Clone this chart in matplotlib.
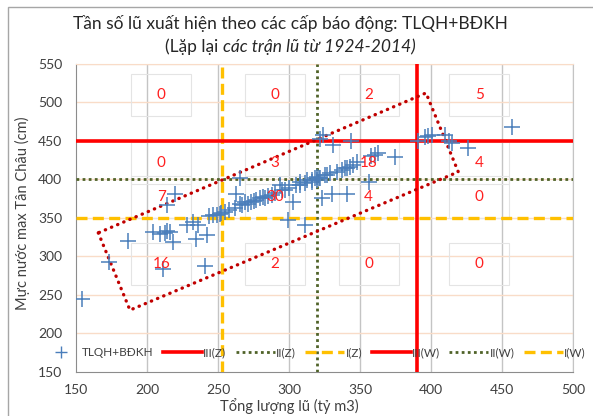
import matplotlib
matplotlib.use("Agg")
import matplotlib.pyplot as plt
from matplotlib.lines import Line2D
from matplotlib.patches import Rectangle, Polygon

plt.rcParams['font.family'] = ['Lato', 'Open Sans', 'DejaVu Sans']

# ---------------- data ----------------
volume = [154, 173.5, 186.8, 204.4, 209, 212.7, 216, 218.5, 211, 228, 232.6, 234.5, 242, 240.8, 236, 214,
          213.8, 219.7, 246.7, 251.4, 249, 244, 252,
          263, 262, 265.5, 269, 271.3, 279.6, 282, 277, 293.7, 297, 303, 305, 311, 316, 319.5, 307.7,
          312.5, 316, 255, 258, 267, 273, 275, 285, 288, 290, 295, 300, 283, 308,
          299.5, 311,
          265.5, 318, 319.5,
          323, 330, 340.6, 356,
          322, 325, 329, 337, 339.4, 347.6, 360.6, 363, 374.6, 331, 344, 334, 341, 343, 345, 321, 327, 358,
          324, 322,
          395.8, 400.5, 410, 456.8, 398,
          391, 413, 414.6, 426]
water_level = [244, 293, 320, 332, 329, 330, 331, 319, 283, 340, 344, 322, 327, 287, 341, 333,
               367, 381, 353, 355, 354, 352, 356,
               381, 362, 368, 370, 368, 375, 377, 373, 392, 385.6, 370, 392, 395, 396.4, 398.6, 396,
               398.6, 398.6, 358, 360, 366, 371, 372, 378, 380, 382, 386, 388, 376, 393,
               347, 340,
               401, 401, 403,
               375, 381, 381, 396,
               401, 405, 408, 412, 414, 422.5, 431, 433.5, 429, 444, 449, 410, 415, 416, 418, 402, 406, 430,
               457, 452,
               455, 457, 457, 468, 456,
               449, 449, 446.6, 440]

# alarm levels
zone_names = ["III(Z)", "II(Z)", "I(Z)"]
zone_x = [390, 320, 253]          # volume thresholds
level_names = ["III(W)", "II(W)", "I(W)"]
level_y = [450, 400, 350]         # water-level thresholds

# counts per cell (columns: x bins, rows: y bins, top to bottom)
count_x = [210, 290, 356, 434]
count_y = [509, 421, 377, 290]
counts = [[0, 0, 2, 5],
          [0, 3, 18, 4],
          [7, 30, 4, 0],
          [16, 2, 0, 0]]

# highlighted zone (dotted polygon)
poly_x = [165.7, 188, 419.2, 396.5]
poly_y = [330.3, 230, 409.5, 512]

x_ticks = [150, 200, 250, 300, 350, 400, 450, 500]
y_ticks = [150, 200, 250, 300, 350, 400, 450, 500, 550]

# ---------------- figure ----------------
W, H = 593, 416
fig = plt.figure(figsize=(W / 100, H / 100), dpi=100)
ax = fig.add_axes([76 / W, 1 - 371.7 / H, (573 - 76) / W, (371.7 - 63.7) / H])
ax.set_xlim(150, 500)
ax.set_ylim(150, 550)

# outer chart border
fig.add_artist(Rectangle((8 / W, -0.1), 1.2, 1 - 7 / H + 0.1, transform=fig.transFigure,
                         fill=False, ec='#A6A6A6', lw=1.0))

# grid
for xv in x_ticks[1:]:
    ax.axvline(xv, color='#C4C4C4', lw=1.0, zorder=0)
for yv in y_ticks[1:]:
    ax.axhline(yv, color='#F9DCC8', lw=1.0, zorder=0)

ax.set_xticks(x_ticks)
ax.set_yticks(y_ticks)
ax.tick_params(length=0, labelsize=10, colors='#404040')
ax.tick_params(axis='x', pad=9)
ax.tick_params(axis='y', pad=10)
for s in ['left', 'bottom']:
    ax.spines[s].set_color('#8C8C8C')
ax.spines['top'].set_color('#F9DCC8')
ax.spines['right'].set_color('#C4C4C4')

# count label boxes and numbers
bw, bh = 60 / 1.42, 42 / 0.77
for i, yy in enumerate(count_y):
    for j, xx in enumerate(count_x):
        ax.add_patch(Rectangle((xx - bw / 2, yy - bh / 2), bw, bh, fill=False,
                               ec='#E4E4E4', lw=0.8, zorder=1))
        ax.text(xx, yy, str(counts[i][j]), color='#FF2020', fontsize=11,
                ha='center', va='center', zorder=5)

# threshold lines
styles = [dict(color='#FF0000', lw=2.6, ls='-'),
          dict(color='#4F6228', lw=2.0, ls=(0, (1, 1.2))),
          dict(color='#FFC000', lw=2.4, ls=(0, (3.3, 1.6)))]
handles = [Line2D([], [], ls='none', marker='+', ms=9, mew=1.0, color='#4A7EBB')]
labels = ["TLQH+BĐKH"]
for k in range(3):
    ax.axvline(zone_x[k], zorder=3, **styles[k])
    handles.append(Line2D([], [], **styles[k]))
    labels.append(zone_names[k])
for k in range(3):
    ax.axhline(level_y[k], zorder=3, **styles[k])
    handles.append(Line2D([], [], **styles[k]))
    labels.append(level_names[k])

# dotted polygon
ax.add_patch(Polygon(list(zip(poly_x, poly_y)), closed=True, fill=False, ec='#C00000',
                     lw=2.4, ls=(0, (0.1, 1.9)), capstyle='round', joinstyle='round', zorder=4))

# scatter
ax.plot(volume, water_level, ls='none', marker='+', ms=11, mew=1.1, color='#4A7EBB', zorder=4)

# legend
leg = fig.legend(handles, labels, loc='center left', bbox_to_anchor=(42 / W, 1 - 353 / H),
                 ncol=7, frameon=False, fontsize=8.5, handlelength=3.3, handletextpad=0.1,
                 columnspacing=0.8, borderaxespad=0, borderpad=0, labelcolor='#404040')

# titles
fig.text(290 / W, 1 - 23 / H, "Tần số lũ xuất hiện theo các cấp báo động: TLQH+BĐKH",
         ha='center', va='center', fontsize=12.5, color='#262626')
fig.canvas.draw()
r = fig.canvas.get_renderer()
t1 = fig.text(0, 1 - 47 / H, "(Lặp lại ", ha='left', va='center', fontsize=12.5, color='#262626')
t2 = fig.text(0, 1 - 47 / H, "các trận lũ từ 1924-2014)", ha='left', va='center', fontsize=12.5,
              style='italic', color='#262626')
w1 = t1.get_window_extent(r).width
w2 = t2.get_window_extent(r).width
x0 = 290 - (w1 + w2) / 2
t1.set_x(x0 / W)
t2.set_x((x0 + w1) / W)

fig.text(289 / W, 1 - 406 / H, "Tổng lượng lũ (tỷ m3)", ha='center', va='center',
         fontsize=10.5, color='#404040')
fig.text(22 / W, 1 - 213 / H, "Mực nước max Tân Châu (cm)", ha='center', va='center',
         rotation=90, fontsize=10.5, color='#404040')

fig.savefig("out.png", dpi=100)
